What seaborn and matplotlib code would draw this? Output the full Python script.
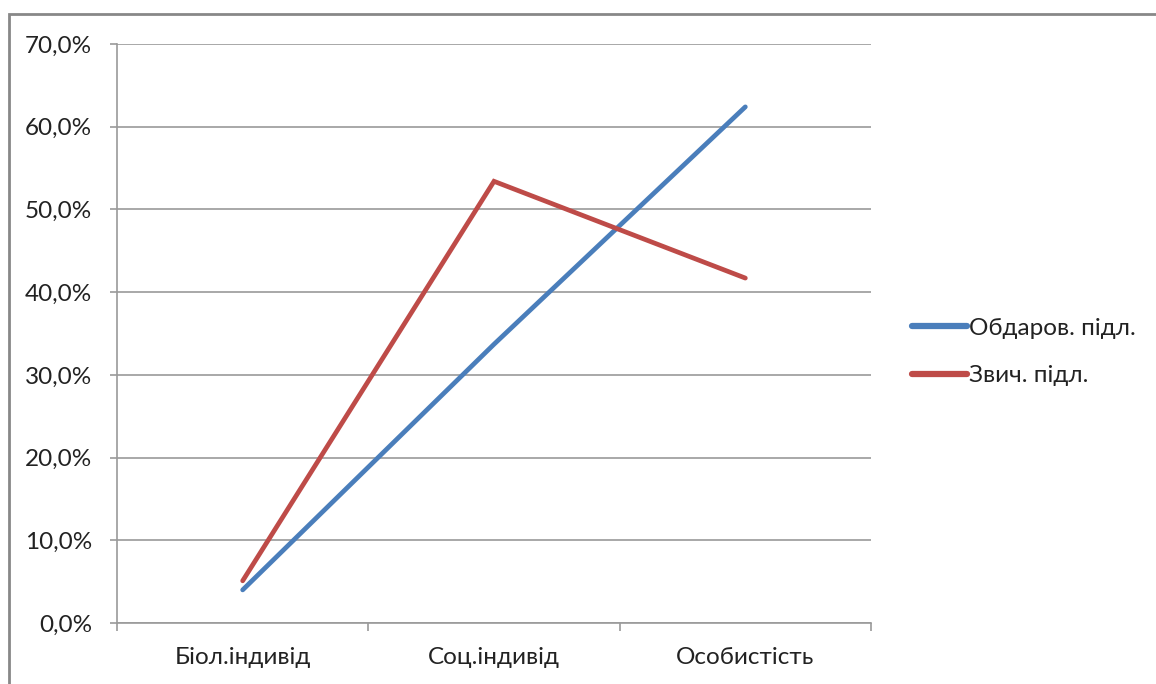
import numpy as np
import pandas as pd
import matplotlib
matplotlib.use("Agg")
import matplotlib.pyplot as plt
import seaborn as sns
from matplotlib.ticker import FuncFormatter, FixedLocator
from matplotlib.patches import Rectangle

# ---------------------------------------------------------
# Data
# ---------------------------------------------------------
categories = ["Біол.індивід", "Соц.індивід", "Особистість"]
gifted = [0.040, 0.337, 0.624]     # Обдаров. підл.
ordinary = [0.051, 0.534, 0.417]   # Звич. підл.
series_names = ["Обдаров. підл.", "Звич. підл."]
colors = ["#4A7EBB", "#BE4B48"]

df = pd.DataFrame({
    "pos": list(range(len(categories))) * 2,
    "value": gifted + ordinary,
    "group": [series_names[0]] * 3 + [series_names[1]] * 3,
})

# ---------------------------------------------------------
# Plot
# ---------------------------------------------------------
sns.set_style("white")
plt.rcParams["font.family"] = ["Lato", "DejaVu Sans"]

fig = plt.figure(figsize=(11.56, 6.84), dpi=100)
ax = fig.add_axes([117 / 1156, 1 - 623 / 684, (871 - 117) / 1156, (623 - 44) / 684])

sns.lineplot(data=df, x="pos", y="value", hue="group", palette=colors,
             linewidth=3.4, ax=ax, legend=True,
             solid_capstyle="round", solid_joinstyle="miter")

ax.set_xlim(-0.5, 2.5)
ax.set_ylim(0, 0.7)
ax.set_yticks(np.arange(0, 0.71, 0.1))
ax.yaxis.set_major_formatter(FuncFormatter(lambda v, _: f"{v * 100:.1f}%".replace(".", ",")))
ax.set_xticks(range(len(categories)))
ax.set_xticklabels(categories)
ax.xaxis.set_minor_locator(FixedLocator([-0.5, 0.5, 1.5, 2.5]))
ax.set_xlabel("")
ax.set_ylabel("")

grid_c = "#9a9a9a"
ax.grid(axis="y", color=grid_c, linewidth=1.2)
ax.set_axisbelow(True)
for side in ["top", "right"]:
    ax.spines[side].set_visible(False)
for side in ["left", "bottom"]:
    ax.spines[side].set_color(grid_c)
    ax.spines[side].set_linewidth(1.2)

fs = 17.5
ax.tick_params(axis="y", which="major", left=True, length=5, width=1.2, color=grid_c,
               pad=13, labelsize=fs, labelcolor="#222222")
ax.tick_params(axis="x", which="major", bottom=False, length=0, pad=17,
               labelsize=fs, labelcolor="#222222")
ax.tick_params(axis="x", which="minor", bottom=True, length=6, width=1.2, color=grid_c)

leg = ax.legend(loc="center left", bbox_to_anchor=(912 / 1156, 1 - 352 / 684),
                bbox_transform=fig.transFigure, frameon=False, fontsize=fs,
                handlelength=2.25, handletextpad=0.1, labelspacing=1.1,
                borderaxespad=0, borderpad=0)
for line in leg.get_lines():
    line.set_linewidth(4.5)
for t in leg.get_texts():
    t.set_color("#222222")

# outer chart frame (partly cropped in the reference)
fig.patches.append(Rectangle((9 / 1156, -0.1), 1.2, 1 - 14 / 684 + 0.1,
                             transform=fig.transFigure, fill=False,
                             edgecolor="#888888", linewidth=2))

plt.savefig("out.png", dpi=100)
plt.close()
